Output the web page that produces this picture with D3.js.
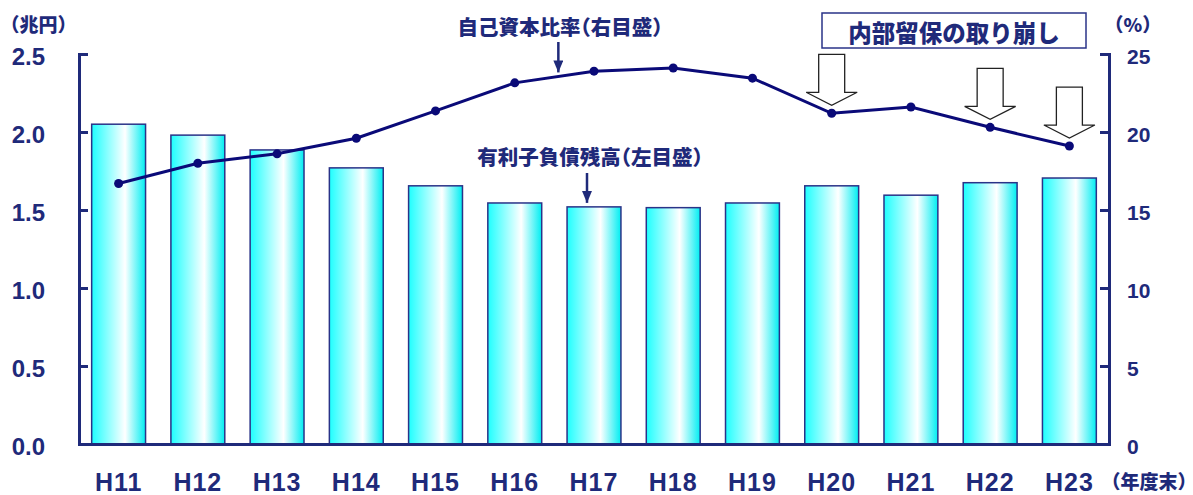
<!DOCTYPE html>
<html>
<head>
<meta charset="utf-8">
<script src="https://cdn.jsdelivr.net/npm/d3@7"></script>
<style>
  html, body { margin: 0; padding: 0; background: #fff; }
  svg { display: block; }
  text { font-family: "Liberation Sans", "Noto Sans CJK JP", sans-serif; font-weight: bold; fill: #1F2A7A; }
  .jp { font-family: "Noto Sans CJK JP", sans-serif; font-weight: 900; font-feature-settings: "halt" 1; }
</style>
</head>
<body>
<svg id="chart" width="1193" height="495"></svg>
<script>
// Fiscal year-end categories
const categories = ["H11","H12","H13","H14","H15","H16","H17","H18","H19","H20","H21","H22","H23"];
// Interest-bearing debt balance (trillion yen, left axis)
const debtValues = [2.05, 1.98, 1.885, 1.77, 1.655, 1.545, 1.52, 1.515, 1.545, 1.655, 1.595, 1.675, 1.705];
// Equity ratio (%, right axis)
const equityRatio = [16.7, 18.0, 18.6, 19.6, 21.35, 23.15, 23.9, 24.1, 23.45, 21.2, 21.6, 20.3, 19.1];
// Years with drawdown of retained earnings
const drawdownYears = ["H20","H22","H23"];
// Tick labels
const leftTicks = [0, 0.5, 1.0, 1.5, 2.0, 2.5];
const rightTicks = [0, 5, 10, 15, 20, 25];

const navy = "#1F2A7A";
const lineColor = "#0A0A78";

const svg = d3.select("#chart");
const m = { left: 79, right: 1109, top: 54, bottom: 444 };

const x = d3.scaleBand().domain(categories).range([m.left, m.right]).paddingInner(0.32).paddingOuter(0.16);
const yL = d3.scaleLinear().domain([0, 2.5]).range([m.bottom, m.top]);
const yR = d3.scaleLinear().domain([0, 25]).range([m.bottom, m.top]);

// Bar gradient: cyan edges, white highlight
const defs = svg.append("defs");
const grad = defs.append("linearGradient").attr("id", "barGrad").attr("x1", "0%").attr("x2", "100%").attr("y1", "0%").attr("y2", "0%");
grad.append("stop").attr("offset", "0%").attr("stop-color", "#1EFFFF");
grad.append("stop").attr("offset", "62%").attr("stop-color", "#FFFFFF");
grad.append("stop").attr("offset", "100%").attr("stop-color", "#00EEF2");

const arrowHead = defs.append("marker").attr("id", "tri").attr("viewBox", "0 0 10 12")
  .attr("refX", 5).attr("refY", 12).attr("markerWidth", 10).attr("markerHeight", 12)
  .attr("markerUnits", "userSpaceOnUse").attr("orient", "0");
arrowHead.append("path").attr("d", "M0,0 L10,0 L5,12 Z").attr("fill", navy);

// Bars
svg.append("g").selectAll("rect").data(categories).join("rect")
  .attr("x", d => x(d))
  .attr("width", x.bandwidth())
  .attr("y", (d, i) => yL(debtValues[i]))
  .attr("height", (d, i) => yL(0) - yL(debtValues[i]))
  .attr("fill", "url(#barGrad)")
  .attr("stroke", "#2A3388")
  .attr("stroke-width", 1.5);

// Axes
const axL = svg.append("g").attr("transform", `translate(${m.left},0)`)
  .call(d3.axisLeft(yL).tickValues(leftTicks).tickFormat(d3.format(".1f")).tickSize(-9).tickPadding(34));
const axR = svg.append("g").attr("transform", `translate(${m.right},0)`)
  .call(d3.axisRight(yR).tickValues(rightTicks).tickFormat(d3.format("d")).tickSize(-9).tickPadding(18));
const axB = svg.append("g").attr("transform", `translate(0,${m.bottom})`)
  .call(d3.axisBottom(x).tickSize(0).tickPadding(29));

[axL, axR, axB].forEach(a => {
  a.selectAll("path.domain").attr("stroke", navy).attr("stroke-width", 3);
  a.selectAll(".tick line").attr("stroke", navy).attr("stroke-width", 3);
  a.selectAll("text").attr("fill", navy).style("font-family", '"Liberation Sans", sans-serif').style("font-weight", "bold");
});
axL.selectAll("text").style("font-size", "24px").attr("dy", "0.42em");
axR.selectAll("text").style("font-size", "21px").attr("dy", "0.45em");
axB.selectAll("text").style("font-size", "25px").style("letter-spacing", "1px").attr("dy", "0.71em");

// Equity ratio line
const line = d3.line().x((d, i) => x(categories[i]) + x.bandwidth() / 2).y(d => yR(d));
svg.append("path").datum(equityRatio).attr("d", line)
  .attr("fill", "none").attr("stroke", lineColor).attr("stroke-width", 3);
svg.append("g").selectAll("circle").data(equityRatio).join("circle")
  .attr("cx", (d, i) => x(categories[i]) + x.bandwidth() / 2)
  .attr("cy", d => yR(d))
  .attr("r", 4.5)
  .attr("fill", lineColor);

// Hollow arrows marking drawdown years
const shaftW = 26, headW = 51, headH = 13, totalH = 51, gap = 8;
drawdownYears.forEach(yr => {
  const i = categories.indexOf(yr);
  const cx = x(yr) + x.bandwidth() / 2;
  const tip = yR(equityRatio[i]) - gap;
  const top = tip - totalH, neck = tip - headH;
  const p = [
    [cx - shaftW / 2, top], [cx + shaftW / 2, top], [cx + shaftW / 2, neck],
    [cx + headW / 2, neck], [cx, tip], [cx - headW / 2, neck], [cx - shaftW / 2, neck]
  ];
  svg.append("path").attr("d", "M" + p.map(q => q.join(",")).join("L") + "Z")
    .attr("fill", "#fff").attr("stroke", "#222").attr("stroke-width", 1.3);
});

// Series labels with pointer arrows
const cxOf = c => x(c) + x.bandwidth() / 2;
const ax1 = cxOf("H16") + 0.55 * x.step();
const ly1 = yR(equityRatio[5]) + 0.55 * (yR(equityRatio[6]) - yR(equityRatio[5]));
svg.append("text").attr("class", "jp").attr("x", 560).attr("y", 35).attr("text-anchor", "middle")
  .style("font-size", "20.5px").text("自己資本比率（右目盛）");
svg.append("line").attr("x1", ax1).attr("x2", ax1).attr("y1", 42).attr("y2", ly1 - 4)
  .attr("stroke", navy).attr("stroke-width", 2.5).attr("marker-end", "url(#tri)");

const ax2 = cxOf("H17") - 7;
svg.append("text").attr("class", "jp").attr("x", 590).attr("y", 165).attr("text-anchor", "middle")
  .style("font-size", "20.5px").text("有利子負債残高（左目盛）");
svg.append("line").attr("x1", ax2).attr("x2", ax2).attr("y1", 173).attr("y2", yL(debtValues[6]) - 4)
  .attr("stroke", navy).attr("stroke-width", 2.5).attr("marker-end", "url(#tri)");

// Legend box
svg.append("rect").attr("x", 822).attr("y", 13).attr("width", 264).attr("height", 35)
  .attr("fill", "#fff").attr("stroke", "#2A3388").attr("stroke-width", 1.5);
svg.append("text").attr("class", "jp").attr("x", 954).attr("y", 42).attr("text-anchor", "middle")
  .style("font-size", "23.5px").text("内部留保の取り崩し");

// Unit labels
svg.append("text").attr("class", "jp").attr("x", 10).attr("y", 32).style("font-size", "19px").text("（兆円）");
svg.append("text").attr("class", "jp").attr("x", 1114).attr("y", 32).style("font-size", "19px").text("（%）");
svg.append("text").attr("class", "jp").attr("x", 1111).attr("y", 489).style("font-size", "19px").text("（年度末）");
</script>
</body>
</html>
